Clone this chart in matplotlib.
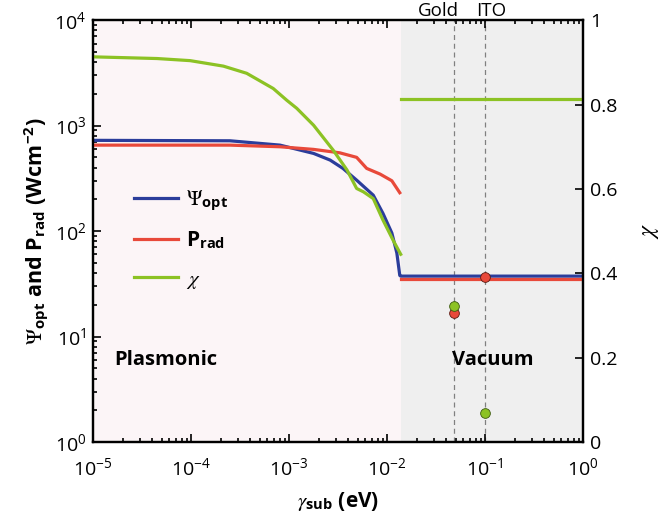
import numpy as np
import matplotlib
matplotlib.use('Agg')
import matplotlib.pyplot as plt
from matplotlib.ticker import LogLocator, NullFormatter

plt.rcParams['font.family'] = ['Open Sans', 'DejaVu Sans']
plt.rcParams['mathtext.fontset'] = 'custom'
plt.rcParams['mathtext.rm'] = 'Open Sans'
plt.rcParams['mathtext.bf'] = 'Open Sans:bold'
plt.rcParams['mathtext.it'] = 'STIXGeneral:italic'
plt.rcParams['mathtext.sf'] = 'STIXGeneral'

# Plasmonic region
gam_psi = [1e-5, 2.5e-4, 8.1e-4, 1.78e-3, 2.63e-3, 3.55e-3, 4.9e-3, 7.24e-3,
           9.1e-3, 1.12e-2, 1.26e-2, 1.35e-2, 1.38e-2, 1.0]
psi_opt = [725, 718, 653, 545, 471, 393, 304, 219, 147, 96, 62, 38, 37.4, 37.4]

gam_prad = [1e-5, 2.5e-4, 8.1e-4, 1.78e-3, 3.3e-3, 4.9e-3, 6.2e-3, 8.5e-3,
            1.12e-2, 1.35e-2]
p_rad = [653, 653, 630, 595, 552, 500, 393, 347, 300, 231]

gam_chi = [1e-5, 4.5e-5, 9.8e-5, 2.14e-4, 3.7e-4, 6.9e-4, 9.5e-4, 1.2e-3,
           1.78e-3, 2.82e-3, 3.9e-3, 4.9e-3, 5.75e-3, 7.24e-3, 9.1e-3,
           1.15e-2, 1.38e-2]
chi = [0.913, 0.909, 0.904, 0.891, 0.874, 0.838, 0.810, 0.791, 0.751, 0.692,
       0.645, 0.601, 0.593, 0.577, 0.526, 0.479, 0.445]

# Vacuum region
gam_vac = [1.38e-2, 1.0]
p_rad_vac = [34.8, 34.8]
chi_vac = [0.814, 0.814]

# Gold / ITO substrates
gam_sub = [0.048, 0.1]
sub_names = ['Gold', 'ITO']
p_rad_sub = [16.9, 36.9]
chi_sub = [0.323, 0.068]

gam_edge = 1.38e-2

c_blue = '#2b3d9b'
c_red = '#e8493a'
c_green = '#8cc224'

fig = plt.figure(figsize=(6.61, 5.30), dpi=100)
ax = fig.add_axes([0.1407, 0.166, 0.7413, 0.796])
ax2 = ax.twinx()

ax.axvspan(1e-5, gam_edge, color='#fcf5f7', zorder=0, lw=0)
ax.axvspan(gam_edge, 1, color='#efefef', zorder=0, lw=0)
for g in gam_sub:
    ax.axvline(g, color='#808080', ls=(0, (4, 3)), lw=0.9, zorder=1)

l1, = ax.plot(gam_psi, psi_opt, color=c_blue, lw=2.3, zorder=2)
l2, = ax.plot(gam_prad, p_rad, color=c_red, lw=2.3, zorder=3)
ax.plot(gam_vac, p_rad_vac, color=c_red, lw=2.3, zorder=3)
ax.plot(gam_sub, p_rad_sub, 'o', color=c_red, mec='#5a1a10', mew=0.6, ms=7, zorder=4)

l3, = ax2.plot(gam_chi, chi, color=c_green, lw=2.3)
ax2.plot(gam_vac, chi_vac, color=c_green, lw=2.3)
ax2.plot(gam_sub, chi_sub, 'o', color=c_green, mec='#3d5a10', mew=0.6, ms=7)

ax.set_xscale('log')
ax.set_yscale('log')
ax.set_xlim(1e-5, 1)
ax.set_ylim(1, 1e4)
ax2.set_ylim(0, 1)
ax2.set_yticks([0, 0.2, 0.4, 0.6, 0.8, 1])
ax2.set_yticklabels(['0', '0.2', '0.4', '0.6', '0.8', '1'])

ax.xaxis.set_major_locator(LogLocator(base=10, numticks=10))
ax.xaxis.set_minor_locator(LogLocator(base=10, subs=np.arange(2, 10), numticks=10))
ax.xaxis.set_minor_formatter(NullFormatter())
ax.yaxis.set_minor_locator(LogLocator(base=10, subs=np.arange(2, 10), numticks=10))
ax.yaxis.set_minor_formatter(NullFormatter())

ax.tick_params(which='both', direction='in', top=True, labelsize=14, width=1.2)
ax.tick_params(which='major', length=6)
ax.tick_params(which='minor', length=3)
ax.tick_params(axis='x', which='major', pad=11)
ax.tick_params(axis='y', which='major', pad=5)
ax2.tick_params(direction='in', labelsize=14, length=6, width=1.2, pad=5)
for a in (ax, ax2):
    for s in a.spines.values():
        s.set_linewidth(1.6)

ax.set_xlabel(r'$\gamma_{\mathbf{sub}}$ (eV)', fontsize=15, fontweight='bold', labelpad=8)
ax.set_ylabel(r'$\mathsf{\Psi}_{\mathbf{opt}}$ and P$_{\mathbf{rad}}$ (Wcm$^{\mathbf{-2}}$)',
              fontsize=15.5, fontweight='bold', labelpad=3)
ax2.set_ylabel(r'$\chi$', fontsize=17, labelpad=14)

sub_label_x = [0.0337, 0.115]
for g, name in zip(sub_label_x, sub_names):
    ax.annotate(name, xy=(g, 1.0), xycoords=ax.get_xaxis_transform(),
                xytext=(0, 0), textcoords='offset points',
                ha='center', va='bottom', fontsize=13.5)

ax.text(5.5e-5, 0.195, 'Plasmonic', transform=ax.get_xaxis_transform(),
        ha='center', va='center', fontsize=14.5, fontweight='bold')
ax.text(0.12, 0.195, 'Vacuum', transform=ax.get_xaxis_transform(),
        ha='center', va='center', fontsize=14.5, fontweight='bold')

ax2.legend([l1, l2, l3],
           [r'$\mathsf{\Psi}_{\mathbf{opt}}$', r'P$_{\mathbf{rad}}$', r'$\chi$'],
           loc='upper left', bbox_to_anchor=(0.045, 0.645), frameon=False,
           handlelength=2.1, labelspacing=0.82, handletextpad=0.4,
           prop={'weight': 'bold', 'size': 15})

fig.savefig('out.png', dpi=100)
